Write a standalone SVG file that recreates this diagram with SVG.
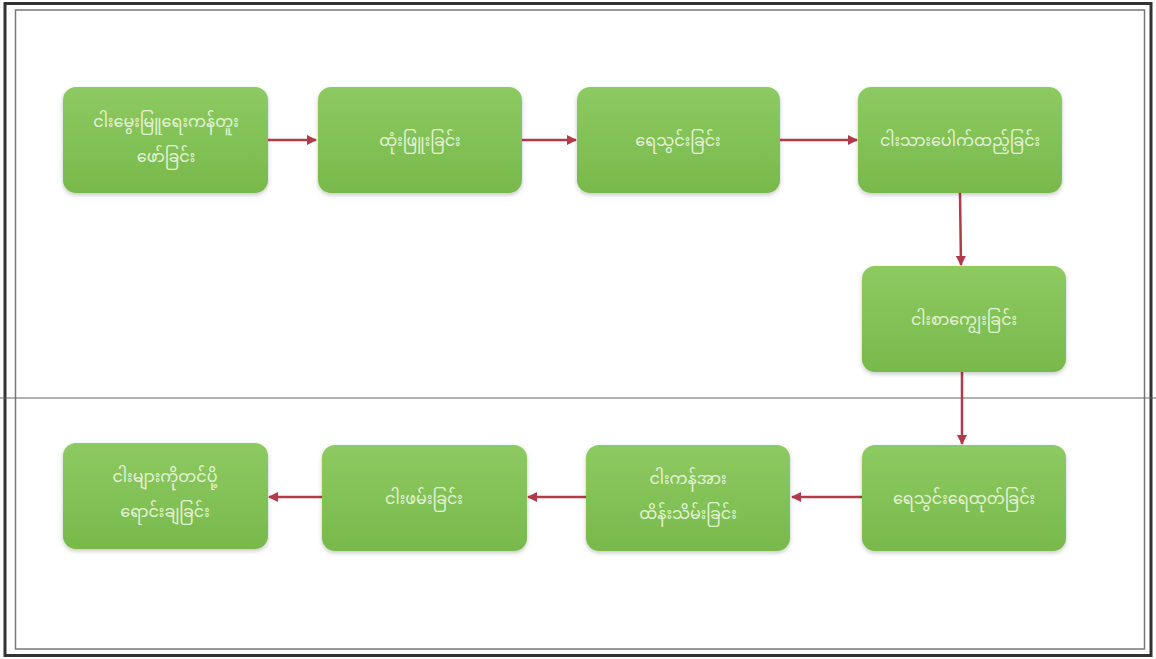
<svg xmlns="http://www.w3.org/2000/svg" width="1156" height="659" viewBox="0 0 1156 659">
<defs>
<linearGradient id="g" x1="0" y1="0" x2="0" y2="1">
<stop offset="0" stop-color="#8dca62"/>
<stop offset="1" stop-color="#78b94b"/>
</linearGradient>
<filter id="sh" x="-10%" y="-10%" width="120%" height="130%">
<feGaussianBlur in="SourceAlpha" stdDeviation="2"/>
<feOffset dx="0" dy="2" result="b"/>
<feFlood flood-color="#000" flood-opacity="0.22"/>
<feComposite in2="b" operator="in"/>
<feMerge><feMergeNode/><feMergeNode in="SourceGraphic"/></feMerge>
</filter>
<marker id="ah" viewBox="0 0 10 10" refX="9" refY="5" markerWidth="4" markerHeight="4" orient="auto-start-reverse" markerUnits="strokeWidth">
<path d="M0,0 L10,5 L0,10 z" fill="#b23a4a"/>
</marker>
</defs>
<style>
.box{fill:url(#g);filter:url(#sh)}
.t{font-family:"Noto Sans Myanmar","Padauk","Myanmar Text","Noto Sans",sans-serif;font-size:16px;fill:#e4f3d4;text-anchor:middle}
.c{stroke:#b23a4a;stroke-width:2.5;fill:none;marker-end:url(#ah)}
</style>
<rect x="0" y="0" width="1156" height="659" fill="#fff"/>
<rect x="5" y="3.5" width="1146" height="652" fill="none" stroke="#333" stroke-width="3"/>
<rect x="15.5" y="10" width="1129" height="639" fill="none" stroke="#777" stroke-width="1.5"/>
<line x1="0" y1="398" x2="1156" y2="398" stroke="#666" stroke-width="1"/>
<g id="connectors">
<line class="c" x1="268" y1="140" x2="316" y2="140"/>
<line class="c" x1="522" y1="140" x2="576" y2="140"/>
<line class="c" x1="780" y1="140" x2="857" y2="140"/>
<line class="c" x1="960" y1="193" x2="961" y2="265"/>
<line class="c" x1="962" y1="372" x2="962" y2="444"/>
<line class="c" x1="862" y1="497" x2="792" y2="497"/>
<line class="c" x1="586" y1="497" x2="528" y2="497"/>
<line class="c" x1="322" y1="497" x2="269" y2="497"/>
</g>
<g id="n1"><rect class="box" x="63" y="87" width="205" height="106" rx="13"/>
<text class="t" x="166" y="127">ငါးမွေးမြူရေးကန်တူး</text><text class="t" x="166" y="162">ဖော်ခြင်း</text></g>
<g id="n2"><rect class="box" x="318" y="87" width="204" height="106" rx="13"/>
<text class="t" x="420" y="146">ထုံးဖြူးခြင်း</text></g>
<g id="n3"><rect class="box" x="577" y="87" width="203" height="106" rx="13"/>
<text class="t" x="678" y="146">ရေသွင်းခြင်း</text></g>
<g id="n4"><rect class="box" x="858" y="87" width="204" height="106" rx="13"/>
<text class="t" x="960" y="146">ငါးသားပေါက်ထည့်ခြင်း</text></g>
<g id="n5"><rect class="box" x="862" y="266" width="204" height="106" rx="13"/>
<text class="t" x="964" y="325">ငါးစာကျွေးခြင်း</text></g>
<g id="n6"><rect class="box" x="862" y="445" width="204" height="106" rx="13"/>
<text class="t" x="964" y="504">ရေသွင်းရေထုတ်ခြင်း</text></g>
<g id="n7"><rect class="box" x="586" y="445" width="204" height="106" rx="13"/>
<text class="t" x="688" y="484">ငါးကန်အား</text><text class="t" x="688" y="519">ထိန်းသိမ်းခြင်း</text></g>
<g id="n8"><rect class="box" x="322" y="445" width="205" height="106" rx="13"/>
<text class="t" x="424" y="504">ငါးဖမ်းခြင်း</text></g>
<g id="n9"><rect class="box" x="63" y="443" width="205" height="106" rx="13"/>
<text class="t" x="165" y="482">ငါးများကိုတင်ပို့</text><text class="t" x="165" y="517">ရောင်းချခြင်း</text></g>
</svg>
